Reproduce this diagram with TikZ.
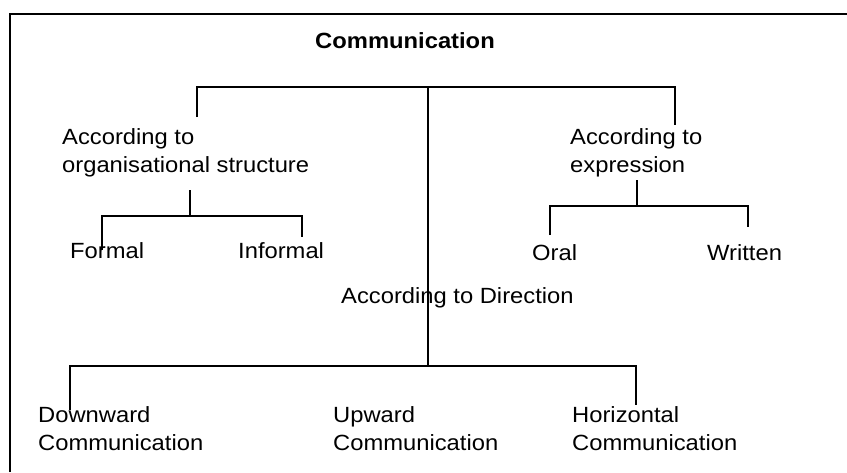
\documentclass[tikz,border=0pt]{standalone}
\usepackage{fontspec}
\setmainfont{Liberation Sans}[FakeStretch=1.08]
\begin{document}
\begin{tikzpicture}[x=1pt,y=-1pt,
  conn/.style={line width=2.6pt, line cap=butt},
  frame/.style={line width=2.8pt},
  lbl/.style={inner sep=0pt, anchor=base west, align=left, font=\fontsize{22}{28}\selectfont},
  ttl/.style={inner sep=0pt, anchor=base, font=\fontsize{22}{28}\selectfont\bfseries}]
\useasboundingbox (0,0) rectangle (847,472);
% frame (partly cropped)
\coordinate (fbl) at (10,472);
\coordinate (ftl) at (10,14);
\coordinate (ftr) at (847,14);
\draw[frame] (fbl) -- (ftl) -- (ftr);

% texts (two-line nodes: base = baseline of last line)
\node[ttl] (comm) at (405,48) {Communication};
\node[lbl] (org) at (62,172) {According to\\organisational structure};
\node[lbl] (expr) at (570,172) {According to\\expression};
\node[lbl] (formal) at (70,258) {Formal};
\node[lbl] (informal) at (238,258) {Informal};
\node[lbl] (oral) at (532,260) {Oral};
\node[lbl] (written) at (707,260) {Written};
\node[lbl] (dir) at (341,303) {According to Direction};
\node[lbl] (down) at (38,450) {Downward\\Communication};
\node[lbl] (up) at (333,450) {Upward\\Communication};
\node[lbl] (horiz) at (572,450) {Horizontal\\Communication};

% junction coordinates
\coordinate (jtop) at (428,87);
\coordinate (org-in) at (197,117);
\coordinate (expr-in) at (675,125);
\coordinate (dir-bar) at (428,366);

\coordinate (org-out) at (190,190);
\coordinate (org-bar) at (190,216);
\coordinate (formal-in) at (102,250);
\coordinate (informal-in) at (302,237);

\coordinate (expr-out) at (637,180);
\coordinate (expr-bar) at (637,206);
\coordinate (oral-in) at (550,235);
\coordinate (written-in) at (748,227);

\coordinate (down-in) at (70,410);
\coordinate (horiz-in) at (636,405);

% connectors
\draw[conn] (org-in) |- (jtop) -| (expr-in);
\draw[conn] (jtop) -- (dir-bar);

\draw[conn] (org-out) -- (org-bar);
\draw[conn] (formal-in) |- (org-bar) -| (informal-in);

\draw[conn] (expr-out) -- (expr-bar);
\draw[conn] (oral-in) |- (expr-bar) -| (written-in);

\draw[conn] (down-in) |- (dir-bar) -| (horiz-in);
\end{tikzpicture}
\end{document}
